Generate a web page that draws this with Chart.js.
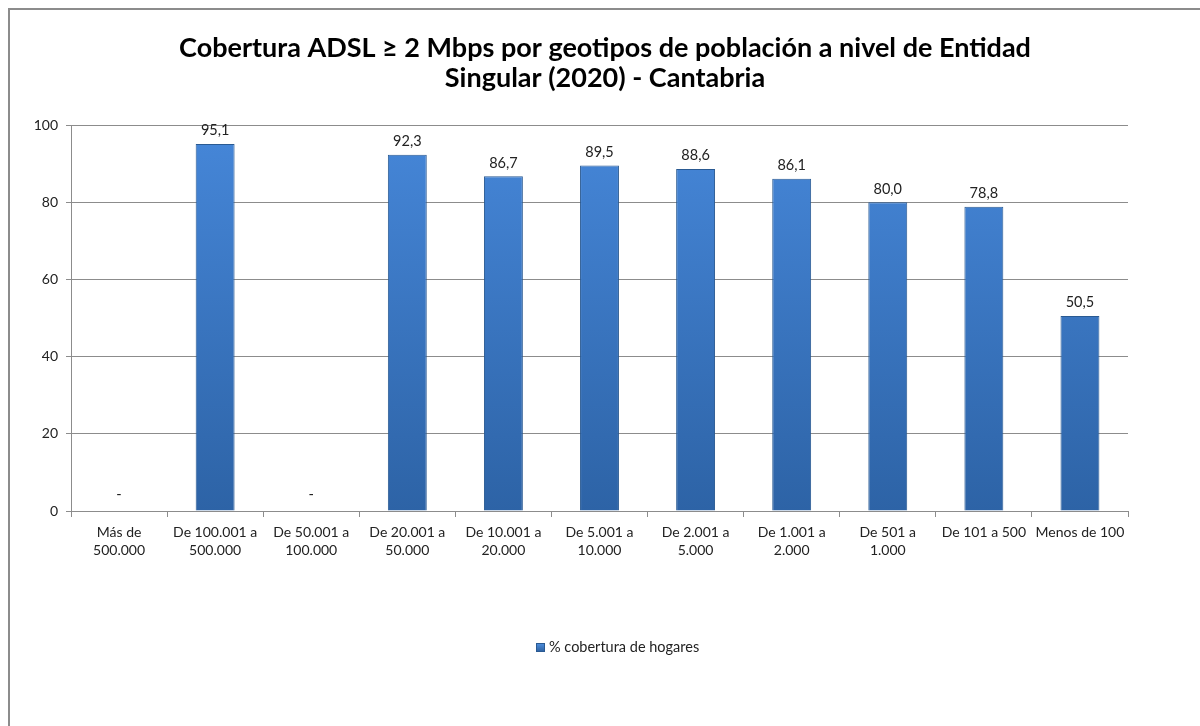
<!DOCTYPE html>
<html>
<head>
<meta charset="utf-8">
<script src="https://cdn.jsdelivr.net/npm/chart.js@4"></script>
<style>
  html, body { margin: 0; padding: 0; background: #fff; }
  #wrap { position: relative; width: 1200px; height: 726px; overflow: hidden; }
  #frame { position: absolute; left: 8px; top: 8px; width: 1300px; height: 800px;
           border-top: 2px solid #8c8c8c; border-left: 2px solid #8c8c8c; box-sizing: border-box; pointer-events: none; }
  canvas { position: absolute; left: 0; top: 0; }
</style>
</head>
<body>
<div id="wrap">
  <canvas id="c" width="1200" height="726"></canvas>
  <div id="frame"></div>
</div>
<script>
const titleLines = ['Cobertura ADSL \u2265 2 Mbps por geotipos de población a nivel de Entidad', 'Singular (2020) - Cantabria'];
const categories = [
  ['Más de', '500.000'],
  ['De 100.001 a', '500.000'],
  ['De 50.001 a', '100.000'],
  ['De 20.001 a', '50.000'],
  ['De 10.001 a', '20.000'],
  ['De 5.001 a', '10.000'],
  ['De 2.001 a', '5.000'],
  ['De 1.001 a', '2.000'],
  ['De 501 a', '1.000'],
  'De 101 a 500',
  'Menos de 100'
];
const seriesName = '% cobertura de hogares';
const coverage = [null, 95.1, null, 92.3, 86.7, 89.5, 88.6, 86.1, 80.0, 78.8, 50.5];
const yTicks = [0, 20, 40, 60, 80, 100];

const FONT = 'Lato, "Open Sans", sans-serif';

const titlePlugin = {
  id: 'customTitle',
  afterDraw(chart) {
    const ctx = chart.ctx;
    ctx.save();
    ctx.font = 'bold 27px ' + FONT;
    ctx.fillStyle = '#000';
    ctx.textAlign = 'center';
    ctx.textBaseline = 'middle';
    titleLines.forEach((t, i) => ctx.fillText(t, 605, 48 + i * 30));
    ctx.restore();
  }
};

const legendPlugin = {
  id: 'customLegend',
  afterDraw(chart) {
    const ctx = chart.ctx;
    const meta = chart.getDatasetMeta(0);
    ctx.save();
    const bx = 536, by = 643;
    const g = ctx.createLinearGradient(0, by, 0, by + 9);
    g.addColorStop(0, '#4f90e0');
    g.addColorStop(1, '#2c5f9e');
    ctx.fillStyle = g;
    ctx.fillRect(bx, by, 9, 9);
    ctx.strokeStyle = '#2a5a92';
    ctx.lineWidth = 1;
    ctx.strokeRect(bx + 0.5, by + 0.5, 8, 8);
    ctx.font = '14.5px ' + FONT;
    ctx.fillStyle = '#222';
    ctx.textAlign = 'left';
    ctx.textBaseline = 'middle';
    ctx.fillText(chart.data.datasets[0].label, bx + 13, by + 4.5);
    ctx.restore();
  }
};

const labelPlugin = {
  id: 'valueLabels',
  afterDatasetsDraw(chart) {
    const ctx = chart.ctx;
    const meta = chart.getDatasetMeta(0);
    const xs = chart.scales.x, ys = chart.scales.y;
    ctx.save();
    ctx.font = '14.5px ' + FONT;
    ctx.fillStyle = '#222';
    ctx.textAlign = 'center';
    ctx.textBaseline = 'bottom';
    coverage.forEach((v, i) => {
      const x = xs.getPixelForValue(i);
      if (v === null) {
        ctx.fillText('-', x, ys.getPixelForValue(0) - 9);
      } else {
        const y = meta.data[i].y;
        ctx.fillText(v.toFixed(1).replace('.', ','), x, y - 6);
      }
    });
    ctx.restore();
  }
};

new Chart(document.getElementById('c'), {
  type: 'bar',
  data: {
    labels: categories,
    datasets: [{
      label: seriesName,
      data: coverage,
      backgroundColor: (c) => {
        const ch = c.chart;
        const area = ch.chartArea;
        if (!area) return '#3b75c4';
        const g = ch.ctx.createLinearGradient(0, area.top, 0, area.bottom);
        g.addColorStop(0, '#4687d9');
        g.addColorStop(1, '#2d63a6');
        return g;
      },
      borderColor: '#2a5a92',
      borderWidth: 1,
      barPercentage: 0.81,
      categoryPercentage: 0.5
    }]
  },
  options: {
    responsive: false,
    animation: false,
    devicePixelRatio: 1,
    layout: { padding: { left: 0, right: 72, top: 125, bottom: 94 } },
    plugins: {
      title: { display: false },
      legend: { display: false },
      tooltip: { enabled: false }
    },
    scales: {
      x: {
        grid: { display: true, offset: true, drawOnChartArea: false, color: '#8c8c8c', tickLength: 6, lineWidth: 1 },
        border: { display: true, color: '#8c8c8c', width: 1 },
        ticks: { color: '#222', font: { family: FONT, size: 14, lineHeight: 1.3 }, maxRotation: 0, autoSkip: false, padding: 6 },
        afterFit: (s) => { s.height = 121; }
      },
      y: {
        min: 0, max: 100,
        afterBuildTicks: (s) => { s.ticks = yTicks.map(v => ({ value: v })); },
        grid: { color: '#8c8c8c', lineWidth: 1, tickLength: 5 },
        border: { display: true, color: '#8c8c8c', width: 1 },
        ticks: { color: '#222', font: { family: FONT, size: 14 }, padding: 8 },
        afterFit: (s) => { s.width = 71; }
      }
    }
  },
  plugins: [labelPlugin, titlePlugin, legendPlugin]
});
</script>
</body>
</html>
